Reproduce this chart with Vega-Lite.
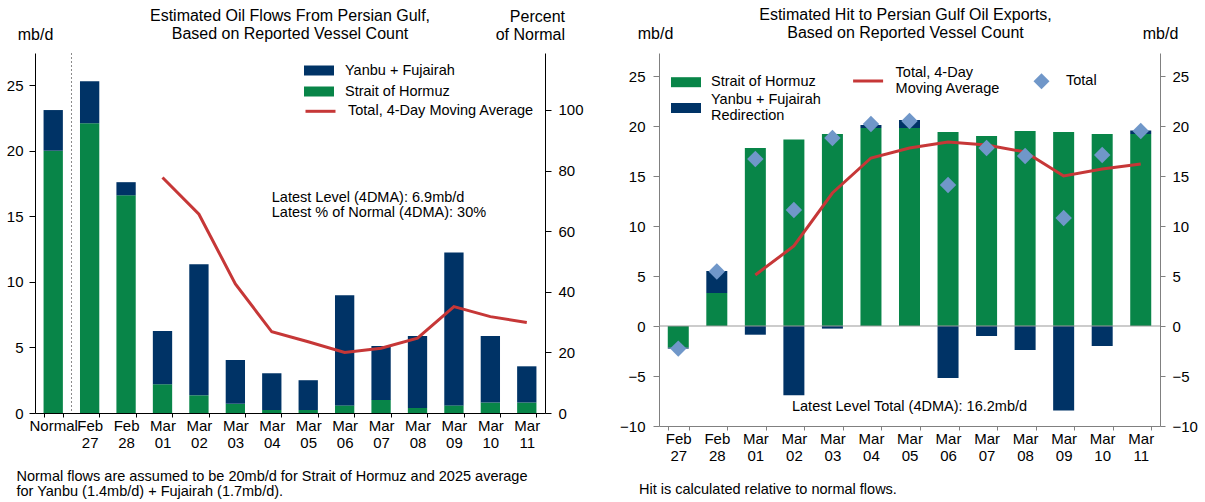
{
  "$schema": "https://vega.github.io/schema/vega-lite/v6.json",
  "padding": {"left": 6, "top": 7, "right": 5, "bottom": 5},
  "config": {
    "font": "Liberation Sans",
    "view": {"stroke": null},
    "axis": {"grid": false, "labelFont": "Liberation Sans", "labelFontSize": 15, "labelColor": "#000", "titleFont": "Liberation Sans", "titleFontWeight": "normal", "titleFontSize": 16, "titleColor": "#000", "tickColor": "#000", "domainColor": "#000"},
    "legend": {"labelFont": "Liberation Sans", "labelFontSize": 14.5, "labelColor": "#000", "padding": 0, "labelLimit": 400},
    "title": {"font": "Liberation Sans", "fontSize": 16, "fontWeight": "normal", "color": "#000"}
  },
  "datasets": {
    "flows": [
      {"date": "Normal", "series": "Strait of Hormuz", "value": 20.0}, {"date": "Normal", "series": "Yanbu + Fujairah", "value": 3.1},
      {"date": "Feb 27", "series": "Strait of Hormuz", "value": 22.1}, {"date": "Feb 27", "series": "Yanbu + Fujairah", "value": 3.2},
      {"date": "Feb 28", "series": "Strait of Hormuz", "value": 16.6}, {"date": "Feb 28", "series": "Yanbu + Fujairah", "value": 1.0},
      {"date": "Mar 01", "series": "Strait of Hormuz", "value": 2.2}, {"date": "Mar 01", "series": "Yanbu + Fujairah", "value": 4.05},
      {"date": "Mar 02", "series": "Strait of Hormuz", "value": 1.35}, {"date": "Mar 02", "series": "Yanbu + Fujairah", "value": 10.0},
      {"date": "Mar 03", "series": "Strait of Hormuz", "value": 0.7}, {"date": "Mar 03", "series": "Yanbu + Fujairah", "value": 3.35},
      {"date": "Mar 04", "series": "Strait of Hormuz", "value": 0.23}, {"date": "Mar 04", "series": "Yanbu + Fujairah", "value": 2.8},
      {"date": "Mar 05", "series": "Strait of Hormuz", "value": 0.23}, {"date": "Mar 05", "series": "Yanbu + Fujairah", "value": 2.27},
      {"date": "Mar 06", "series": "Strait of Hormuz", "value": 0.58}, {"date": "Mar 06", "series": "Yanbu + Fujairah", "value": 8.4},
      {"date": "Mar 07", "series": "Strait of Hormuz", "value": 1.0}, {"date": "Mar 07", "series": "Yanbu + Fujairah", "value": 4.1},
      {"date": "Mar 08", "series": "Strait of Hormuz", "value": 0.38}, {"date": "Mar 08", "series": "Yanbu + Fujairah", "value": 5.5},
      {"date": "Mar 09", "series": "Strait of Hormuz", "value": 0.58}, {"date": "Mar 09", "series": "Yanbu + Fujairah", "value": 11.65},
      {"date": "Mar 10", "series": "Strait of Hormuz", "value": 0.8}, {"date": "Mar 10", "series": "Yanbu + Fujairah", "value": 5.07},
      {"date": "Mar 11", "series": "Strait of Hormuz", "value": 0.8}, {"date": "Mar 11", "series": "Yanbu + Fujairah", "value": 2.76}
    ],
    "pct": [
      {"date": "Mar 01", "pct": 77.7}, {"date": "Mar 02", "pct": 65.6}, {"date": "Mar 03", "pct": 42.6},
      {"date": "Mar 04", "pct": 26.8}, {"date": "Mar 05", "pct": 23.5}, {"date": "Mar 06", "pct": 20.0},
      {"date": "Mar 07", "pct": 21.4}, {"date": "Mar 08", "pct": 24.7}, {"date": "Mar 09", "pct": 35.1},
      {"date": "Mar 10", "pct": 31.8}, {"date": "Mar 11", "pct": 29.9}
    ],
    "hits": [
      {"date": "Feb 27", "component": "Strait of Hormuz", "value": -2.16}, {"date": "Feb 27", "component": "Yanbu + Fujairah Redirection", "value": -0.1},
      {"date": "Feb 28", "component": "Strait of Hormuz", "value": 3.3}, {"date": "Feb 28", "component": "Yanbu + Fujairah Redirection", "value": 2.2},
      {"date": "Mar 01", "component": "Strait of Hormuz", "value": 17.8}, {"date": "Mar 01", "component": "Yanbu + Fujairah Redirection", "value": -0.87},
      {"date": "Mar 02", "component": "Strait of Hormuz", "value": 18.65}, {"date": "Mar 02", "component": "Yanbu + Fujairah Redirection", "value": -6.93},
      {"date": "Mar 03", "component": "Strait of Hormuz", "value": 19.2}, {"date": "Mar 03", "component": "Yanbu + Fujairah Redirection", "value": -0.26},
      {"date": "Mar 04", "component": "Strait of Hormuz", "value": 19.8}, {"date": "Mar 04", "component": "Yanbu + Fujairah Redirection", "value": 0.3},
      {"date": "Mar 05", "component": "Strait of Hormuz", "value": 19.8}, {"date": "Mar 05", "component": "Yanbu + Fujairah Redirection", "value": 0.8},
      {"date": "Mar 06", "component": "Strait of Hormuz", "value": 19.4}, {"date": "Mar 06", "component": "Yanbu + Fujairah Redirection", "value": -5.2},
      {"date": "Mar 07", "component": "Strait of Hormuz", "value": 19.0}, {"date": "Mar 07", "component": "Yanbu + Fujairah Redirection", "value": -1.0},
      {"date": "Mar 08", "component": "Strait of Hormuz", "value": 19.5}, {"date": "Mar 08", "component": "Yanbu + Fujairah Redirection", "value": -2.4},
      {"date": "Mar 09", "component": "Strait of Hormuz", "value": 19.4}, {"date": "Mar 09", "component": "Yanbu + Fujairah Redirection", "value": -8.45},
      {"date": "Mar 10", "component": "Strait of Hormuz", "value": 19.2}, {"date": "Mar 10", "component": "Yanbu + Fujairah Redirection", "value": -2.0},
      {"date": "Mar 11", "component": "Strait of Hormuz", "value": 19.2}, {"date": "Mar 11", "component": "Yanbu + Fujairah Redirection", "value": 0.35}
    ],
    "totals": [
      {"date": "Feb 27", "total": -2.26}, {"date": "Feb 28", "total": 5.45}, {"date": "Mar 01", "total": 16.7},
      {"date": "Mar 02", "total": 11.6}, {"date": "Mar 03", "total": 18.8}, {"date": "Mar 04", "total": 20.2},
      {"date": "Mar 05", "total": 20.5}, {"date": "Mar 06", "total": 14.1}, {"date": "Mar 07", "total": 17.8},
      {"date": "Mar 08", "total": 17.0}, {"date": "Mar 09", "total": 10.8}, {"date": "Mar 10", "total": 17.1},
      {"date": "Mar 11", "total": 19.5}
    ],
    "ma": [
      {"date": "Mar 01", "ma": 5.1}, {"date": "Mar 02", "ma": 8.0}, {"date": "Mar 03", "ma": 13.3},
      {"date": "Mar 04", "ma": 16.8}, {"date": "Mar 05", "ma": 17.8}, {"date": "Mar 06", "ma": 18.4},
      {"date": "Mar 07", "ma": 18.1}, {"date": "Mar 08", "ma": 17.4}, {"date": "Mar 09", "ma": 15.0},
      {"date": "Mar 10", "ma": 15.7}, {"date": "Mar 11", "ma": 16.2}
    ]
  },
  "spacing": 114,
  "bounds": "flush",
  "resolve": {
    "scale": {"color": "independent", "stroke": "independent", "shape": "independent"},
    "legend": {"color": "independent", "stroke": "independent", "shape": "independent"}
  },
  "hconcat": [
    {
      "width": 510,
      "height": 360,
      "title": {"text": ["Estimated Oil Flows From Persian Gulf,", "Based on Reported Vessel Count"], "anchor": "middle", "frame": "group", "lineHeight": 18.3, "offset": -34},
      "resolve": {"scale": {"y": "independent"}},
      "layer": [
        {
          "data": {"name": "flows"},
          "mark": {"type": "bar"},
          "encoding": {
            "x": {
              "field": "date", "type": "nominal", "sort": null,
              "scale": {"domain": ["Normal", "Feb 27", "Feb 28", "Mar 01", "Mar 02", "Mar 03", "Mar 04", "Mar 05", "Mar 06", "Mar 07", "Mar 08", "Mar 09", "Mar 10", "Mar 11"], "paddingInner": 0.47, "paddingOuter": 0.235},
              "axis": {
                "title": ["Normal flows are assumed to be 20mb/d for Strait of Hormuz and 2025 average", "for Yanbu (1.4mb/d) + Fujairah (1.7mb/d)."],
                "titleAlign": "left", "titleAnchor": "start", "titleX": -19, "titleY": 56, "titleBaseline": "top", "titleFontSize": 14.5, "titleLineHeight": 15,
                "labelAngle": 0, "labelExpr": "split(datum.label, ' ')", "labelLineHeight": 17, "labelOverlap": false,
                "tickBand": "extent", "tickSize": 4, "labelPadding": 1
              }
            },
            "y": {
              "field": "value", "type": "quantitative", "stack": "zero",
              "scale": {"domain": [0, 27.45], "nice": false},
              "axis": {"orient": "left", "values": [0, 5, 10, 15, 20, 25], "title": "mb/d", "titleAngle": 0, "titleAlign": "center", "titleBaseline": "bottom", "titleX": 0, "titleY": -11, "tickSize": 6, "labelPadding": 6}
            },
            "order": {"field": "series", "sort": "ascending"},
            "color": {
              "field": "series", "type": "nominal",
              "scale": {"domain": ["Yanbu + Fujairah", "Strait of Hormuz"], "range": ["#003366", "#088548"]},
              "legend": {"orient": "none", "legendX": 276, "legendY": 9.5, "title": null, "symbolType": "M-1.875,-0.625H1.875V0.625H-1.875Z", "symbolSize": 256, "symbolStrokeWidth": 0, "labelOffset": 18, "rowPadding": 6}
            }
          }
        },
        {
          "data": {"values": [{}]},
          "mark": {"type": "rule", "strokeDash": [2, 2], "color": "#8a8a8a", "strokeWidth": 1},
          "encoding": {
            "x": {"datum": "Feb 27", "type": "nominal", "bandPosition": -0.44,
              "scale": {"domain": ["Normal", "Feb 27", "Feb 28", "Mar 01", "Mar 02", "Mar 03", "Mar 04", "Mar 05", "Mar 06", "Mar 07", "Mar 08", "Mar 09", "Mar 10", "Mar 11"], "paddingInner": 0.47, "paddingOuter": 0.235},
              "axis": {
                "title": ["Normal flows are assumed to be 20mb/d for Strait of Hormuz and 2025 average", "for Yanbu (1.4mb/d) + Fujairah (1.7mb/d)."],
                "titleAlign": "left", "titleAnchor": "start", "titleX": -19, "titleY": 56, "titleBaseline": "top", "titleFontSize": 14.5, "titleLineHeight": 15,
                "labelAngle": 0, "labelExpr": "split(datum.label, ' ')", "labelLineHeight": 17, "labelOverlap": false,
                "tickBand": "extent", "tickSize": 4, "labelPadding": 1
              }
            }
          }
        },
        {
          "data": {"name": "pct"},
          "mark": {"type": "line", "strokeWidth": 3},
          "encoding": {
            "x": {"field": "date", "type": "nominal", "sort": null,
              "scale": {"domain": ["Normal", "Feb 27", "Feb 28", "Mar 01", "Mar 02", "Mar 03", "Mar 04", "Mar 05", "Mar 06", "Mar 07", "Mar 08", "Mar 09", "Mar 10", "Mar 11"], "paddingInner": 0.47, "paddingOuter": 0.235},
              "axis": {
                "title": ["Normal flows are assumed to be 20mb/d for Strait of Hormuz and 2025 average", "for Yanbu (1.4mb/d) + Fujairah (1.7mb/d)."],
                "titleAlign": "left", "titleAnchor": "start", "titleX": -19, "titleY": 56, "titleBaseline": "top", "titleFontSize": 14.5, "titleLineHeight": 15,
                "labelAngle": 0, "labelExpr": "split(datum.label, ' ')", "labelLineHeight": 17, "labelOverlap": false,
                "tickBand": "extent", "tickSize": 4, "labelPadding": 1
              }
            },
            "y": {
              "field": "pct", "type": "quantitative",
              "scale": {"domain": [0, 118.8], "nice": false},
              "axis": {"orient": "right", "values": [0, 20, 40, 60, 80, 100], "title": ["Percent", "of Normal"], "titleAngle": 0, "titleAlign": "right", "titleBaseline": "bottom", "titleX": 19.5, "titleY": -29, "titleLineHeight": 18.3, "tickSize": 6, "labelPadding": 7}
            },
            "stroke": {
              "datum": "Total, 4-Day Moving Average", "type": "nominal",
              "scale": {"range": ["#C63737"]},
              "legend": {"orient": "none", "legendX": 276, "legendY": 48.8, "title": null, "symbolType": "M-1.875,0H1.875", "symbolSize": 256, "symbolStrokeWidth": 3, "labelOffset": 18}
            }
          }
        },
        {
          "data": {"values": [{}]},
          "mark": {"type": "text", "align": "left", "baseline": "middle", "fontSize": 14.5, "lineHeight": 15, "color": "#000"},
          "encoding": {
            "x": {"datum": "Mar 04", "type": "nominal",
              "scale": {"domain": ["Normal", "Feb 27", "Feb 28", "Mar 01", "Mar 02", "Mar 03", "Mar 04", "Mar 05", "Mar 06", "Mar 07", "Mar 08", "Mar 09", "Mar 10", "Mar 11"], "paddingInner": 0.47, "paddingOuter": 0.235},
              "axis": {
                "title": ["Normal flows are assumed to be 20mb/d for Strait of Hormuz and 2025 average", "for Yanbu (1.4mb/d) + Fujairah (1.7mb/d)."],
                "titleAlign": "left", "titleAnchor": "start", "titleX": -19, "titleY": 56, "titleBaseline": "top", "titleFontSize": 14.5, "titleLineHeight": 15,
                "labelAngle": 0, "labelExpr": "split(datum.label, ' ')", "labelLineHeight": 17, "labelOverlap": false,
                "tickBand": "extent", "tickSize": 4, "labelPadding": 1
              }
            },
            "y": {"datum": 16.4, "type": "quantitative", "scale": {"domain": [0, 27.45], "nice": false}, "axis": null},
            "text": {"value": ["Latest Level (4DMA): 6.9mb/d", "Latest % of Normal (4DMA): 30%"]}
          }
        }
      ]
    },
    {
      "width": 501,
      "height": 373,
      "title": {"text": ["Estimated Hit to Persian Gulf Oil Exports,", "Based on Reported Vessel Count"], "anchor": "middle", "frame": "group", "lineHeight": 18.3, "offset": -16, "dx": -4},
      "resolve": {"scale": {"y": "independent"}},
      "layer": [
        {
          "data": {"name": "hits"},
          "mark": {"type": "bar"},
          "encoding": {
            "x": {
              "field": "date", "type": "nominal", "sort": null,
              "scale": {"domain": ["Feb 27", "Feb 28", "Mar 01", "Mar 02", "Mar 03", "Mar 04", "Mar 05", "Mar 06", "Mar 07", "Mar 08", "Mar 09", "Mar 10", "Mar 11"], "paddingInner": 0.455, "paddingOuter": 0.2275},
              "axis": {
                "title": "Hit is calculated relative to normal flows.",
                "titleAlign": "left", "titleAnchor": "start", "titleX": -20.5, "titleY": 56, "titleBaseline": "top", "titleFontSize": 14.5,
                "labelAngle": 0, "labelExpr": "split(datum.label, ' ')", "labelLineHeight": 17, "labelOverlap": false,
                "tickBand": "extent", "tickSize": 4, "labelPadding": 1, "domainColor": "#808080", "tickColor": "#808080"
              }
            },
            "y": {
              "field": "value", "type": "quantitative", "stack": "zero",
              "scale": {"domain": [-10, 27.3], "nice": false, "zero": false},
              "axis": {"orient": "left", "values": [-10, -5, 0, 5, 10, 15, 20, 25], "title": "mb/d", "titleAngle": 0, "titleAlign": "center", "titleBaseline": "bottom", "titleX": -4, "titleY": -11.5, "tickSize": 6, "labelPadding": 8, "domainColor": "#808080", "tickColor": "#808080"}
            },
            "order": {"field": "component", "sort": "ascending"},
            "color": {
              "field": "component", "type": "nominal",
              "scale": {"domain": ["Strait of Hormuz", "Yanbu + Fujairah Redirection"], "range": ["#088548", "#003366"]},
              "legend": {"orient": "none", "legendX": 19, "legendY": 21.2, "title": null, "symbolType": "M-1.875,-0.625H1.875V0.625H-1.875Z", "symbolSize": 256, "symbolStrokeWidth": 0, "labelOffset": 17, "rowPadding": 2.8,
                "labelExpr": "datum.label === 'Yanbu + Fujairah Redirection' ? ['Yanbu + Fujairah', 'Redirection'] : datum.label",
                "encode": {"labels": {"update": {"lineHeight": {"value": 15.5}, "dy": {"signal": "datum.value === 'Yanbu + Fujairah Redirection' ? -8 : 0"}}}}}
            }
          }
        },
        {
          "data": {"values": [{}]},
          "mark": {"type": "rule", "color": "#999999", "strokeWidth": 1},
          "encoding": {
            "y": {"datum": 0, "type": "quantitative", "scale": {"domain": [-10, 27.3], "nice": false, "zero": false}, "axis": null}
          }
        },
        {
          "data": {"name": "ma"},
          "mark": {"type": "line", "strokeWidth": 3},
          "encoding": {
            "x": {"field": "date", "type": "nominal", "sort": null,
              "scale": {"domain": ["Feb 27", "Feb 28", "Mar 01", "Mar 02", "Mar 03", "Mar 04", "Mar 05", "Mar 06", "Mar 07", "Mar 08", "Mar 09", "Mar 10", "Mar 11"], "paddingInner": 0.455, "paddingOuter": 0.2275},
              "axis": {
                "title": "Hit is calculated relative to normal flows.",
                "titleAlign": "left", "titleAnchor": "start", "titleX": -20.5, "titleY": 56, "titleBaseline": "top", "titleFontSize": 14.5,
                "labelAngle": 0, "labelExpr": "split(datum.label, ' ')", "labelLineHeight": 17, "labelOverlap": false,
                "tickBand": "extent", "tickSize": 4, "labelPadding": 1, "domainColor": "#808080", "tickColor": "#808080"
              }
            },
            "y": {
              "field": "ma", "type": "quantitative",
              "scale": {"domain": [-10, 27.3], "nice": false, "zero": false},
              "axis": {"orient": "right", "values": [-10, -5, 0, 5, 10, 15, 20, 25], "title": "mb/d", "titleAngle": 0, "titleAlign": "center", "titleBaseline": "bottom", "titleX": 0, "titleY": -11.5, "tickSize": 5, "labelPadding": 7, "domainColor": "#808080", "tickColor": "#808080"}
            },
            "stroke": {
              "datum": "Total, 4-Day Moving Average", "type": "nominal",
              "scale": {"range": ["#C63737"]},
              "legend": {"orient": "none", "legendX": 199.6, "legendY": 18.5, "title": null, "symbolType": "M-1.875,0H1.875", "symbolSize": 256, "symbolStrokeWidth": 3, "labelOffset": 18,
                "labelExpr": "['Total, 4-Day', 'Moving Average']",
                "encode": {"labels": {"update": {"lineHeight": {"value": 15.5}, "dy": {"value": -8}}}}}
            }
          }
        },
        {
          "data": {"name": "totals"},
          "mark": {"type": "point", "filled": true, "size": 270, "opacity": 1},
          "encoding": {
            "x": {"field": "date", "type": "nominal", "sort": null,
              "scale": {"domain": ["Feb 27", "Feb 28", "Mar 01", "Mar 02", "Mar 03", "Mar 04", "Mar 05", "Mar 06", "Mar 07", "Mar 08", "Mar 09", "Mar 10", "Mar 11"], "paddingInner": 0.455, "paddingOuter": 0.2275},
              "axis": {
                "title": "Hit is calculated relative to normal flows.",
                "titleAlign": "left", "titleAnchor": "start", "titleX": -20.5, "titleY": 56, "titleBaseline": "top", "titleFontSize": 14.5,
                "labelAngle": 0, "labelExpr": "split(datum.label, ' ')", "labelLineHeight": 17, "labelOverlap": false,
                "tickBand": "extent", "tickSize": 4, "labelPadding": 1, "domainColor": "#808080", "tickColor": "#808080"
              }
            },
            "y": {"field": "total", "type": "quantitative", "scale": {"domain": [-10, 27.3], "nice": false, "zero": false}, "axis": null},
            "color": {"value": "#7097C9"},
            "shape": {
              "datum": "Total", "type": "nominal",
              "scale": {"range": ["diamond"]},
              "legend": {"orient": "none", "legendX": 374.5, "legendY": 20.2, "title": null, "symbolSize": 256, "symbolFillColor": "#7097C9", "symbolStrokeWidth": 0, "labelOffset": 16.5}
            }
          }
        },
        {
          "data": {"values": [{}]},
          "mark": {"type": "text", "align": "center", "baseline": "middle", "fontSize": 14.5, "color": "#000"},
          "encoding": {
            "x": {"datum": "Mar 05", "type": "nominal",
              "scale": {"domain": ["Feb 27", "Feb 28", "Mar 01", "Mar 02", "Mar 03", "Mar 04", "Mar 05", "Mar 06", "Mar 07", "Mar 08", "Mar 09", "Mar 10", "Mar 11"], "paddingInner": 0.455, "paddingOuter": 0.2275},
              "axis": {
                "title": "Hit is calculated relative to normal flows.",
                "titleAlign": "left", "titleAnchor": "start", "titleX": -20.5, "titleY": 56, "titleBaseline": "top", "titleFontSize": 14.5,
                "labelAngle": 0, "labelExpr": "split(datum.label, ' ')", "labelLineHeight": 17, "labelOverlap": false,
                "tickBand": "extent", "tickSize": 4, "labelPadding": 1, "domainColor": "#808080", "tickColor": "#808080"
              }
            },
            "y": {"datum": -8.06, "type": "quantitative", "scale": {"domain": [-10, 27.3], "nice": false, "zero": false}, "axis": null},
            "text": {"value": "Latest Level Total (4DMA): 16.2mb/d"}
          }
        }
      ]
    }
  ]
}
